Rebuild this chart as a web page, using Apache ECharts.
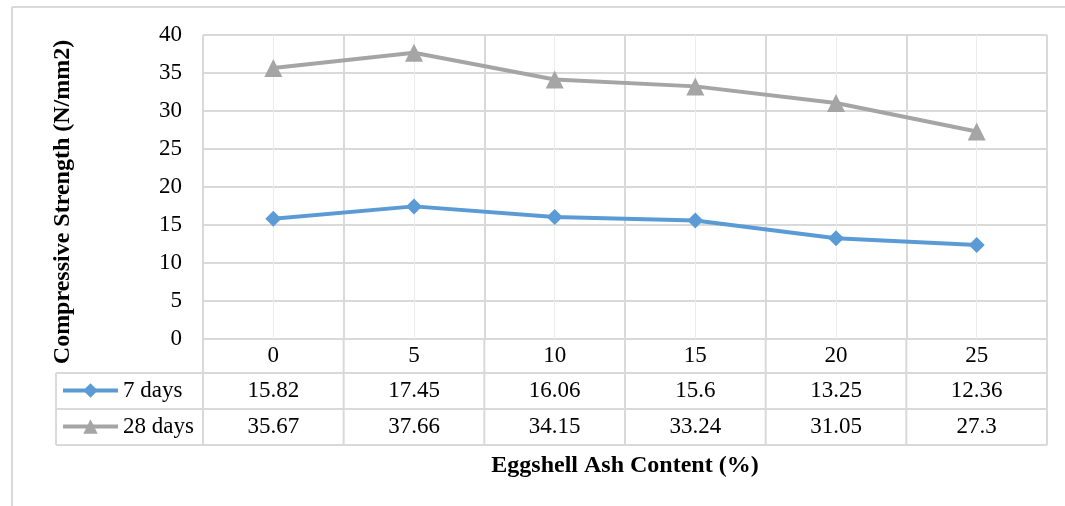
<!DOCTYPE html>
<html>
<head>
<meta charset="utf-8">
<script src="https://cdn.jsdelivr.net/npm/echarts@6/dist/echarts.min.js"></script>
<style>
  html, body { margin: 0; padding: 0; background: #fff; }
  #chart { width: 1065px; height: 506px; }
</style>
</head>
<body>
<div id="chart"></div>
<script>
// Eggshell ash content (%) and compressive strength (N/mm2)
const categories = ['0', '5', '10', '15', '20', '25'];
const days7 = [15.82, 17.45, 16.06, 15.6, 13.25, 12.36];
const days28 = [35.67, 37.66, 34.15, 33.24, 31.05, 27.3];
const seriesNames = ['7 days', '28 days'];
const xTitle = 'Eggshell Ash Content (%)';
const yTitle = 'Compressive Strength (N/mm2)';

const FONT = "'Liberation Serif', 'Times New Roman', serif";
const GRID_LINE = '#d9d9d9';
const LABEL_SIZE = 23;
const TITLE_SIZE = 24;

// plot rectangle and data-table rows underneath it
const W = 1065, H = 506;
const plot = { left: 203, top: 35, right: 1047, bottom: 339 };
const rowLines = [339, 373, 409, 445];
const tableLeft = 56;

const chart = echarts.init(document.getElementById('chart'), null, { renderer: 'canvas' });

const lineSeries = (name, data, color, symbol, size) => ({
  name, type: 'line', data,
  xAxisIndex: 0, yAxisIndex: 0,
  symbol, symbolSize: size,
  lineStyle: { color, width: 4 },
  itemStyle: { color },
  z: 5
});

const legendFor = (name, rowIdx) => ({
  data: [name],
  left: 61,
  top: (rowLines[rowIdx] + rowLines[rowIdx + 1]) / 2 - 12,
  orient: 'horizontal',
  itemWidth: 55,
  itemHeight: 18,
  padding: 0,
  selectedMode: false,
  lineStyle: { width: 4 },
  textStyle: { fontFamily: FONT, fontSize: LABEL_SIZE, color: '#000' }
});

chart.setOption({
  animation: false,
  backgroundColor: '#fff',
  grid: {
    left: plot.left, top: plot.top,
    right: W - plot.right, bottom: H - plot.bottom,
    containLabel: false
  },
  legend: [legendFor(seriesNames[0], 1), legendFor(seriesNames[1], 2)],
  xAxis: [
    {
      type: 'category',
      data: categories,
      boundaryGap: true,
      axisLine: { show: false },
      axisTick: { show: false },
      axisLabel: {
        fontFamily: FONT, fontSize: LABEL_SIZE, color: '#000',
        margin: 17, verticalAlign: 'middle'
      },
      splitLine: { show: true, lineStyle: { color: GRID_LINE, width: 2 } }
    },
    {
      // half-category steps: only the mid-band lines are coloured
      type: 'value',
      min: 0, max: categories.length * 2, interval: 1,
      show: true,
      axisLine: { show: false },
      axisTick: { show: false },
      axisLabel: { show: false },
      splitLine: { show: true, lineStyle: { color: ['rgba(0,0,0,0)', '#ececec'], width: 1 } }
    }
  ],
  yAxis: {
    type: 'value',
    min: 0, max: 40, interval: 5,
    axisLine: { show: false },
    axisTick: { show: false },
    axisLabel: { fontFamily: FONT, fontSize: LABEL_SIZE, color: '#000', margin: 21 },
    splitLine: { show: true, lineStyle: { color: GRID_LINE, width: 2 } }
  },
  series: [
    lineSeries(seriesNames[0], days7, '#5b9bd5', 'diamond', 16),
    lineSeries(seriesNames[1], days28, '#a5a5a5', 'triangle', 18)
  ]
});

// data table, frame and axis titles
const g = [];
const line = (x1, y1, x2, y2, color, width) => ({
  type: 'line', silent: true, z: 1,
  shape: { x1, y1, x2, y2 },
  style: { stroke: color || GRID_LINE, lineWidth: width || 2 }
});

// outer frame
g.push(line(12, 7, W, 7, '#d9d9d9', 2));
g.push(line(12, 7, 12, H, '#d9d9d9', 2));

// table horizontal rules
for (let r = 1; r < rowLines.length; r++) {
  g.push(line(tableLeft, rowLines[r], plot.right, rowLines[r]));
}
// table vertical rules
g.push(line(tableLeft, rowLines[1], tableLeft, rowLines[3]));
const band = (plot.right - plot.left) / categories.length;
for (let k = 0; k <= categories.length; k++) {
  const x = plot.left + k * band;
  g.push(line(x, rowLines[0], x, rowLines[3]));
}

// table values
[days7, days28].forEach((vals, s) => {
  const y = (rowLines[s + 1] + rowLines[s + 2]) / 2;
  vals.forEach((v, i) => {
    const x = chart.convertToPixel({ xAxisIndex: 0 }, categories[i]);
    g.push({
      type: 'text', silent: true, z: 3,
      x, y,
      style: {
        text: String(v), fontFamily: FONT, fontSize: LABEL_SIZE, fill: '#000',
        align: 'center', verticalAlign: 'middle'
      }
    });
  });
});

// axis titles
g.push({
  type: 'text', silent: true, z: 3,
  x: (plot.left + plot.right) / 2, y: 466,
  style: {
    text: xTitle, fontFamily: FONT, fontSize: TITLE_SIZE, fontWeight: 'bold', fill: '#000',
    align: 'center', verticalAlign: 'middle'
  }
});
g.push({
  type: 'text', silent: true, z: 3,
  x: 63, y: 202, rotation: Math.PI / 2,
  style: {
    text: yTitle, fontFamily: FONT, fontSize: TITLE_SIZE, fontWeight: 'bold', fill: '#000',
    align: 'center', verticalAlign: 'middle'
  }
});

chart.setOption({ graphic: g });
</script>
</body>
</html>
